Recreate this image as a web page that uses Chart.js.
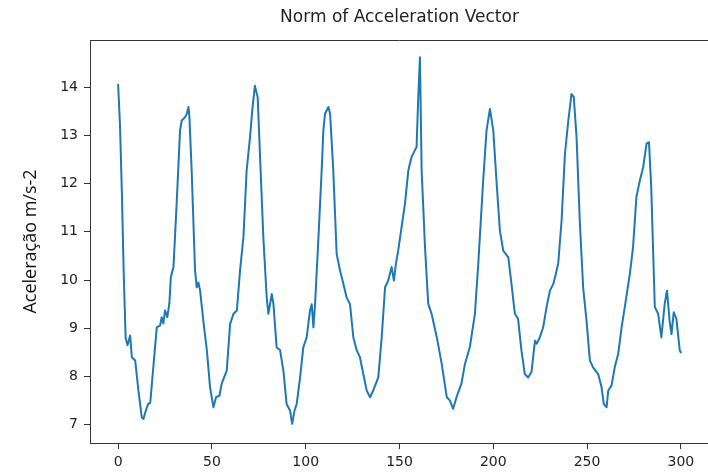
<!DOCTYPE html>
<html>
<head>
<meta charset="utf-8">
<script src="https://cdn.jsdelivr.net/npm/chart.js@4/dist/chart.umd.min.js"></script>
<style>
  html, body { margin: 0; padding: 0; background: #fff; overflow: hidden; }
  canvas { display: block; }
</style>
</head>
<body>
<canvas id="accel-chart" width="740" height="475"></canvas>
<script>
// sample positions and norm of acceleration
const sampleX = [
  0, 1, 2, 3, 4, 5, 6.4, 7.3, 9.1, 10.8, 12.6, 13.5, 15.3, 16.2, 17.1, 20.6, 22.4, 23.2, 24.1, 25,
  26.2, 27.3, 28.1, 29.5, 31.2, 33, 33.9, 35.7, 36.6, 37.5, 38, 39.2, 41, 41.9, 42.8, 43.7, 45.4, 47.3, 49, 50.8,
  52.2, 54, 55.2, 57.9, 59.7, 61.5, 63.3, 65, 66.8, 68.5, 70.3, 71.5, 72.9, 74.4, 75.6, 77.4, 79.2, 80.1, 81.9, 82.8,
  84.5, 86.3, 88.1, 89.8, 91.7, 92.2, 92.8, 94, 95.2, 97, 98.7, 100.5, 102.3, 103.2, 104.1, 105, 106.8, 108.5, 109.4, 110.3,
  112.1, 113, 114.7, 116.5, 118.3, 120.1, 121.8, 123.6, 125.4, 127.2, 128.9, 130.7, 132.5, 134.3, 136, 138.7, 140.5, 142.3, 144, 145.8,
  147, 148.1, 149.3, 151.1, 152.9, 154.7, 155.5, 156.4, 158.2, 159.1, 160, 160.9, 161.8, 163.6, 165.3, 167.1, 169.9, 172.5, 175.2, 176.9,
  178.6, 180.4, 183, 184.9, 187.5, 190.2, 192, 194.6, 196.4, 198.2, 200, 201.7, 203.5, 205.3, 208, 209.7, 211.5, 213.2, 215, 216.8,
  218.6, 220.4, 222.2, 223.1, 224.8, 226.6, 228.4, 230.2, 232, 232.9, 234.6, 236.4, 238.2, 240, 241.7, 242.9, 244.4, 246.1, 247.9, 249.7,
  251.5, 253.2, 255.9, 257.7, 258.9, 260.4, 261.3, 263, 264.8, 266.6, 268.4, 270.1, 272.8, 274.5, 276.3, 278.1, 279.9, 281.7, 283, 284.2,
  286.1, 287.9, 289.6, 291.4, 292.6, 294, 295, 296.2, 297.6, 299.4, 300
];
const accelNorm = [
  14.05, 13.2, 11.8, 10.1, 8.8, 8.65, 8.85, 8.4, 8.33, 7.71, 7.15, 7.12, 7.36, 7.44, 7.45, 9.02, 9.06, 9.23, 9.1, 9.37,
  9.23, 9.51, 10.06, 10.27, 11.59, 13.1, 13.31, 13.38, 13.45, 13.59, 13.38, 12.27, 10.2, 9.85, 9.95, 9.78, 9.16, 8.54, 7.78, 7.36,
  7.57, 7.6, 7.85, 8.12, 9.09, 9.3, 9.37, 10.2, 10.89, 12.27, 12.96, 13.52, 14.03, 13.79, 12.62, 10.89, 9.64, 9.3, 9.71, 9.5,
  8.6, 8.55, 8.12, 7.43, 7.29, 7.15, 7.02, 7.29, 7.43, 7.98, 8.6, 8.81, 9.37, 9.5, 9.02, 9.51, 10.89, 12.27, 13.1, 13.45,
  13.59, 13.45, 12.27, 10.54, 10.2, 9.92, 9.64, 9.5, 8.81, 8.54, 8.4, 8.05, 7.71, 7.57, 7.71, 7.98, 8.81, 9.85, 9.99, 10.27,
  9.99, 10.34, 10.61, 11.1, 11.58, 12.27, 12.41, 12.55, 12.69, 12.76, 13.79, 14.62, 12.27, 10.68, 9.51, 9.3, 8.81, 8.26, 7.57, 7.5,
  7.33, 7.57, 7.85, 8.26, 8.61, 9.3, 10.34, 12.06, 13.1, 13.55, 13.1, 12.06, 11.03, 10.61, 10.47, 9.92, 9.3, 9.2, 8.54, 8.05,
  7.98, 8.1, 8.74, 8.68, 8.81, 9.02, 9.44, 9.78, 9.92, 10.06, 10.34, 11.23, 12.62, 13.31, 13.86, 13.8, 12.96, 11.23, 9.85, 9.16,
  8.33, 8.19, 8.05, 7.78, 7.43, 7.36, 7.71, 7.81, 8.2, 8.47, 9.02, 9.44, 10.13, 10.68, 11.72, 12.06, 12.34, 12.83, 12.86, 11.93,
  9.44, 9.3, 8.81, 9.51, 9.78, 9.16, 8.88, 9.33, 9.2, 8.54, 8.5
];
const xTicks = [0, 50, 100, 150, 200, 250, 300];
const yTicks = [7, 8, 9, 10, 11, 12, 13, 14];

const axisColor = '#333';
const tickFont = { family: 'DejaVu Sans', size: 14 };

// top spine only, the right one falls outside the picture
const topSpine = {
  id: 'topSpine',
  afterDraw(chart) {
    const { ctx, chartArea: a } = chart;
    ctx.save();
    ctx.strokeStyle = axisColor;
    ctx.lineWidth = 1;
    ctx.beginPath();
    ctx.moveTo(a.left, a.top + 0.5);
    ctx.lineTo(a.right, a.top + 0.5);
    ctx.stroke();
    ctx.restore();
  }
};

new Chart(document.querySelector('#accel-chart').getContext('2d'), {
  type: 'line',
  data: {
    datasets: [{
      data: sampleX.map((x, i) => ({ x: x, y: accelNorm[i] })),
      borderColor: '#1f77b4',
      borderWidth: 2,
      borderJoinStyle: 'round',
      borderCapStyle: 'round',
      pointRadius: 0,
      tension: 0
    }]
  },
  options: {
    responsive: false,
    animation: false,
    devicePixelRatio: 1,
    layout: { padding: { right: 31 } },
    plugins: {
      legend: { display: false },
      tooltip: { enabled: false },
      title: {
        display: true,
        fullSize: false,
        text: 'Norm of Acceleration Vector',
        color: '#222',
        font: { family: 'DejaVu Sans', size: 17, weight: 'normal' },
        padding: { top: 7, bottom: 12.6 }
      }
    },
    scales: {
      x: {
        type: 'linear',
        min: -15,
        max: 315,
        afterBuildTicks: s => { s.ticks = xTicks.map(v => ({ value: v })); },
        afterFit: s => { s.height = 32; },
        grid: { drawOnChartArea: false, tickLength: 6, color: axisColor },
        border: { color: axisColor },
        ticks: { color: '#222', font: tickFont, padding: 5, maxRotation: 0 }
      },
      y: {
        min: 6.62,
        max: 14.98,
        afterBuildTicks: s => { s.ticks = yTicks.map(v => ({ value: v })); },
        afterFit: s => { s.width = 90; },
        grid: { drawOnChartArea: false, tickLength: 6, color: axisColor },
        border: { color: axisColor },
        ticks: { color: '#222', font: tickFont, padding: 6 },
        title: {
          display: true,
          text: 'Aceleração m/s-2',
          color: '#111',
          font: { family: 'Open Sans', size: 18 },
          padding: { top: 20, bottom: 0 }
        }
      }
    }
  },
  plugins: [topSpine]
});
</script>
</body>
</html>
